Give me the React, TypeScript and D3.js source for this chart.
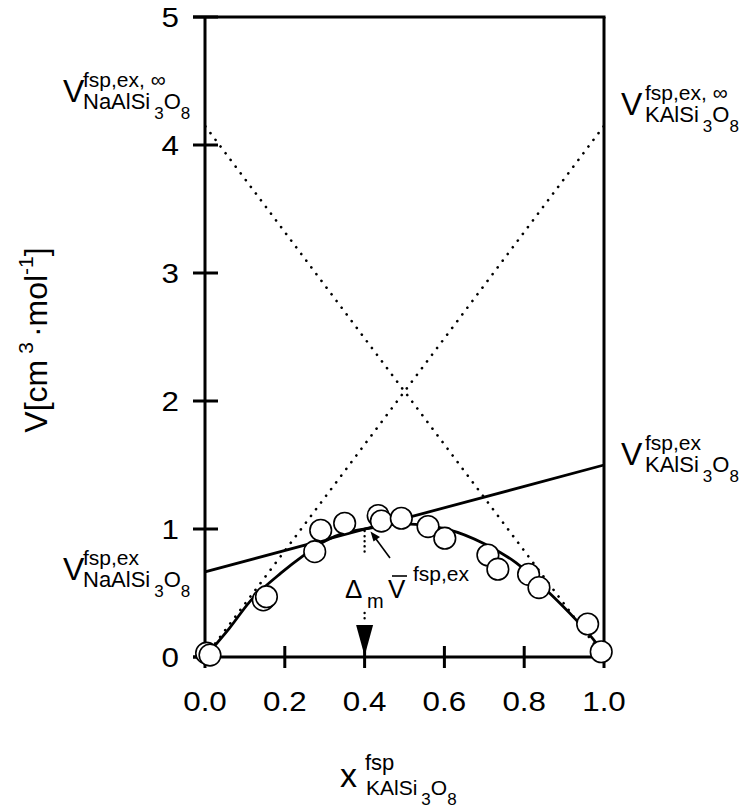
import React from "react";
import * as d3 from "d3";

// ---- data ----
const yTicks = [0, 1, 2, 3, 4, 5];
const xTicks = [0, 0.2, 0.4, 0.6, 0.8, 1.0];
const xTickLabels = ["0.0", "0.2", "0.4", "0.6", "0.8", "1.0"];

// measured excess volumes (x_KAlSi3O8, V)
const obsX = [0.004, 0.0125, 0.146, 0.154, 0.275, 0.29, 0.35, 0.434, 0.442, 0.492, 0.559, 0.601, 0.709, 0.734, 0.811, 0.837, 0.959, 0.993];
const obsV = [0.03, 0.015, 0.446, 0.471, 0.823, 0.99, 1.045, 1.105, 1.062, 1.084, 1.019, 0.928, 0.797, 0.686, 0.646, 0.542, 0.258, 0.041];

// fitted mixing curve
const fitX = [0, 0.06, 0.12, 0.19, 0.25, 0.3, 0.35, 0.41, 0.5, 0.61, 0.7, 0.78, 0.86, 0.93, 0.98, 1.0];
const fitV = [0, 0.22, 0.46, 0.655, 0.8, 0.905, 0.97, 1.005, 1.04, 0.995, 0.885, 0.735, 0.51, 0.29, 0.11, 0];

// tangent lines: [V at x=0, V at x=1]
const tangentAt04 = [0.665, 1.5];
const tangentAt0 = [0, 4.15];
const tangentAt1 = [4.15, 0];
const markX = 0.4;
const markV = 1.0;

const W = 742;
const H = 810;

const FONT = "'Liberation Sans', Arial, Helvetica, sans-serif";

function VLabel({ x, y, sup, sub, off }: { x: number; y: number; sup: string; sub: string; off: number }) {
  const sx = x + off;
  return (
    <g fontFamily={FONT} fill="#000">
      <text x={x} y={y} fontSize={32}>V</text>
      <text x={sx} y={y - 15} fontSize={21}>{sup}</text>
      <text x={sx} y={y + 7} fontSize={22}>
        {sub}
        <tspan dx={4} dy={10} fontSize={17}>3</tspan>
        <tspan dy={-10} fontSize={22}>O</tspan>
        <tspan dy={10} fontSize={17}>8</tspan>
      </text>
    </g>
  );
}

export default function App() {
  const x = d3.scaleLinear().domain([0, 1]).range([205, 604]);
  const y = d3.scaleLinear().domain([0, 5]).range([657, 17]);

  const curve = d3
    .line<number>()
    .x((_, i) => x(fitX[i]))
    .y((d) => y(d))
    .curve(d3.curveCatmullRom.alpha(0.5));

  const x0 = x(0), x1 = x(1), yb = y(0), yt = y(5);
  const mx = x(markX);
  const my = y(markV);

  return (
    <div style={{ position: "absolute", left: 0, top: 0 }}>
      <svg width={W} height={H} viewBox={`0 0 ${W} ${H}`} style={{ display: "block", background: "#fff" }}>
        {/* frame */}
        <g stroke="#000" strokeWidth={3} fill="none">
          <line x1={x0} y1={yt} x2={x0} y2={yb + 11} />
          <line x1={x1} y1={yt} x2={x1} y2={yb + 11} />
          <line x1={x0 - 12} y1={yt} x2={x1 + 1.5} y2={yt} />
          <line x1={x0 - 12} y1={yb} x2={x1} y2={yb} />
          {yTicks.map((t) => (
            <line key={"yt" + t} x1={x0 - 12} y1={y(t)} x2={x0 + 13} y2={y(t)} />
          ))}
          {xTicks.slice(1, -1).map((t) => (
            <line key={"xt" + t} x1={x(t)} y1={yb - 11} x2={x(t)} y2={yb + 11} />
          ))}
        </g>

        {/* tick labels (slightly wide face as in the reference) */}
        <g fontFamily={FONT} fontSize={28} fill="#000">
          {yTicks.map((t) => (
            <text key={"yl" + t} transform={`translate(179,${y(t) + 10}) scale(1.12,1)`} textAnchor="end">{String(t)}</text>
          ))}
          {xTicks.map((t, i) => (
            <text key={"xl" + t} transform={`translate(${x(t)},711) scale(1.12,1)`} textAnchor="middle">{xTickLabels[i]}</text>
          ))}
        </g>

        {/* dotted infinite-dilution tangents */}
        <g stroke="#000" strokeWidth={2.6} strokeLinecap="round" strokeDasharray="0.1 8.3" fill="none">
          <line x1={x0} y1={y(tangentAt0[0])} x2={x1} y2={y(tangentAt0[1])} />
          <line x1={x1} y1={y(tangentAt1[1])} x2={x0} y2={y(tangentAt1[0])} />
        </g>

        {/* tangent at x=0.4 */}
        <line x1={x0} y1={y(tangentAt04[0])} x2={x1} y2={y(tangentAt04[1])} stroke="#000" strokeWidth={2.8} />

        {/* fitted curve */}
        <path d={curve(fitV) || ""} fill="none" stroke="#000" strokeWidth={2.8} />

        {/* observed points */}
        <g fill="#fff" stroke="#000" strokeWidth={1.6}>
          {obsX.map((v, i) => (
            <circle key={"p" + i} cx={x(v)} cy={y(obsV[i])} r={10.8} />
          ))}
        </g>

        {/* annotation at x = 0.4 */}
        <g stroke="#000" strokeWidth={2.4} strokeLinecap="round" strokeDasharray="0.1 5" fill="none">
          <line x1={mx} y1={my + 2} x2={mx} y2={556} />
          <line x1={mx} y1={613} x2={mx} y2={623} />
        </g>
        <path d={`M${mx - 8.5},625 L${mx + 8.5},625 L${mx},656 Z`} fill="#000" />
        <line x1={390} y1={558} x2={376} y2={539} stroke="#000" strokeWidth={1.6} />
        <path d="M370.5,531.5 L380,537 L373.5,541.5 Z" fill="#000" />

        <g fontFamily={FONT} fill="#000">
          <text x={345} y={598} fontSize={26}>Δ</text>
          <text x={367} y={608} fontSize={20}>m</text>
          <text x={388} y={598} fontSize={26}>V</text>
          <line x1={392} y1={576} x2={407} y2={576} stroke="#000" strokeWidth={1.6} />
          <text x={413} y={581} fontSize={21}>fsp,ex</text>
        </g>

        {/* endpoint labels */}
        <VLabel x={63} y={102} off={20} sup="fsp,ex, ∞" sub="NaAlSi" />
        <VLabel x={63} y={580} off={20} sup="fsp,ex" sub="NaAlSi" />
        <VLabel x={621} y={115} off={24} sup="fsp,ex, ∞" sub="KAlSi" />
        <VLabel x={621} y={465} off={24} sup="fsp,ex" sub="KAlSi" />

        {/* x-axis title */}
        <g fontFamily={FONT} fill="#000">
          <text x={340} y={787} fontSize={34}>x</text>
          <text x={365} y={770} fontSize={22}>fsp</text>
          <text x={366} y={795} fontSize={21}>
            KAlSi
            <tspan dx={4} dy={10} fontSize={17}>3</tspan>
            <tspan dy={-10} fontSize={21}>O</tspan>
            <tspan dy={10} fontSize={17}>8</tspan>
          </text>
        </g>

        {/* y-axis title */}
        <text transform="translate(47,340) rotate(-90)" fontFamily={FONT} fontSize={32} textAnchor="middle" fill="#000">
          V[cm
          <tspan dx={6} dy={-14} fontSize={21}>3</tspan>
          <tspan dx={5} dy={14} fontSize={32}>·mol</tspan>
          <tspan dy={-14} fontSize={21}>-1</tspan>
          <tspan dy={14} fontSize={32}>]</tspan>
        </text>
      </svg>
    </div>
  );
}
